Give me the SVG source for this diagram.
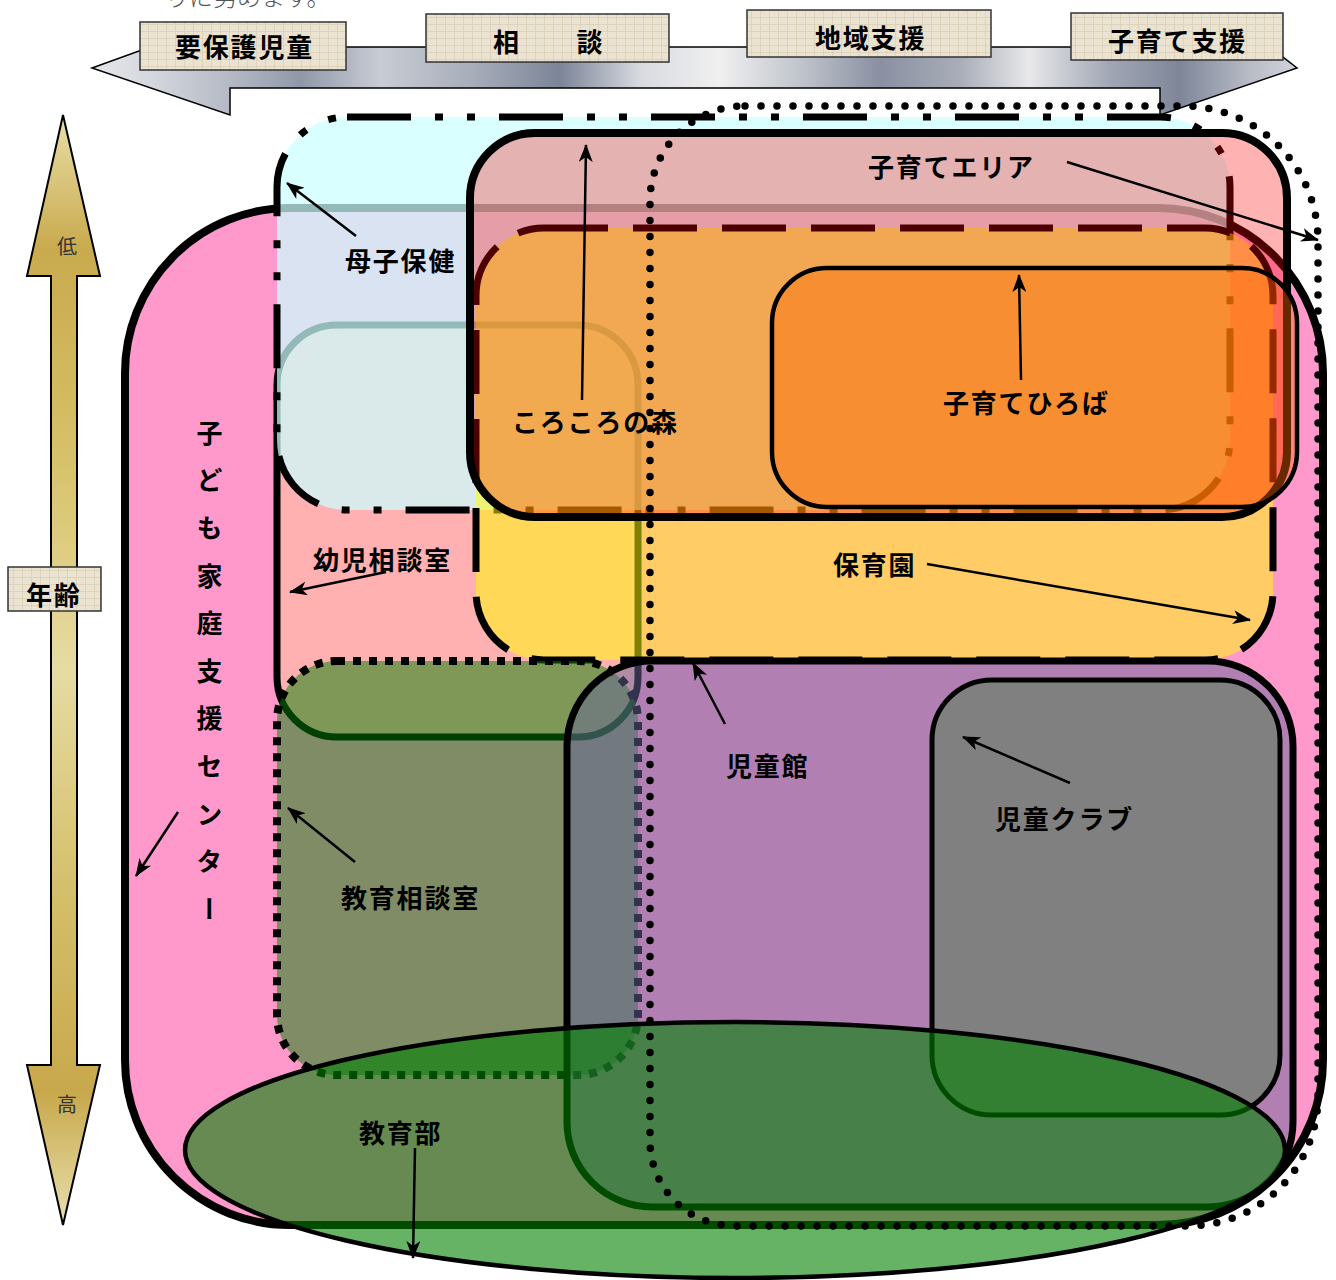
<svg xmlns="http://www.w3.org/2000/svg" width="1336" height="1280" viewBox="0 0 1336 1280">
<defs>
  <linearGradient id="band" gradientUnits="userSpaceOnUse" x1="92" y1="0" x2="1297" y2="0">
    <stop offset="0" stop-color="#e4e6ea"/>
    <stop offset="0.048" stop-color="#d5d8de"/>
    <stop offset="0.115" stop-color="#b4b9c4"/>
    <stop offset="0.173" stop-color="#9098a8"/>
    <stop offset="0.239" stop-color="#c8ccd4"/>
    <stop offset="0.314" stop-color="#a8aeba"/>
    <stop offset="0.388" stop-color="#7c8498"/>
    <stop offset="0.455" stop-color="#d8dadf"/>
    <stop offset="0.521" stop-color="#f0f0f0"/>
    <stop offset="0.588" stop-color="#c0c4cc"/>
    <stop offset="0.654" stop-color="#8a90a2"/>
    <stop offset="0.72" stop-color="#a8adb8"/>
    <stop offset="0.778" stop-color="#e8e8ea"/>
    <stop offset="0.845" stop-color="#a0a6b4"/>
    <stop offset="0.903" stop-color="#7e8698"/>
    <stop offset="0.961" stop-color="#b8bcc6"/>
    <stop offset="1" stop-color="#d0d3da"/>
  </linearGradient>
  <linearGradient id="gold" gradientUnits="userSpaceOnUse" x1="0" y1="115" x2="0" y2="1225">
    <stop offset="0" stop-color="#e8dfa8"/>
    <stop offset="0.12" stop-color="#c9aa4e"/>
    <stop offset="0.3" stop-color="#d6c068"/>
    <stop offset="0.5" stop-color="#e6dba2"/>
    <stop offset="0.7" stop-color="#d4bf6a"/>
    <stop offset="0.88" stop-color="#c8a84c"/>
    <stop offset="1" stop-color="#e8e0ae"/>
  </linearGradient>
  <pattern id="parch" patternUnits="userSpaceOnUse" width="9" height="7">
    <rect width="9" height="7" fill="#ebe3d2"/>
    <path d="M0,3.5 H9 M4.5,0 V7" stroke="#dccfb6" stroke-width="0.8"/>
  </pattern>
  <marker id="ah" markerWidth="18" markerHeight="14" refX="17" refY="7" orient="auto" markerUnits="userSpaceOnUse">
    <path d="M0,0 L18,7 L0,14 L5,7 z" fill="#000"/>
  </marker>
</defs>
<style>
  .lbl{font-family:'Noto Sans CJK JP','Noto Sans CJK SC',sans-serif;font-weight:700;font-size:26px;letter-spacing:1.8px;fill:#000}
  .sm{font-family:'Noto Sans CJK JP','Noto Sans CJK SC',sans-serif;font-weight:400;font-size:20px;fill:#333}
  .con{stroke:#000;stroke-width:2.5;fill:none;marker-end:url(#ah)}
  .box{fill:url(#parch);stroke:#333;stroke-width:1.5}
</style>

<rect width="1336" height="1280" fill="#fff"/>

<text x="165" y="6" style="font-family:'Noto Sans CJK JP',sans-serif;font-size:24px;fill:#555;font-weight:300">りに努めます。</text>

<g id="top-banner">
  <polygon points="92,68 150,47 1270,47 1297,68 1160,115 1160,88 230,88 230,115" fill="url(#band)" stroke="#000" stroke-width="1.5"/>
</g>
<g id="box-yohogo"><rect class="box" x="140" y="22" width="206" height="48"/><text class="lbl" x="175" y="57">要保護児童</text></g>
<g id="box-sodan"><rect class="box" x="426" y="14" width="243" height="48"/><text class="lbl" x="493" y="52">相　　談</text></g>
<g id="box-chiiki"><rect class="box" x="747" y="10" width="244" height="47"/><text class="lbl" x="815" y="48">地域支援</text></g>
<g id="box-kosodate"><rect class="box" x="1071" y="13" width="212" height="47"/><text class="lbl" x="1108" y="51">子育て支援</text></g>

<g id="age-arrow">
  <polygon points="63,115 100,276 77,276 77,1065 100,1065 63,1225 27,1065 51,1065 51,276 27,276" fill="url(#gold)" stroke="#000" stroke-width="2"/>
  <text class="sm" x="67" y="254" text-anchor="middle">低</text>
  <text class="sm" x="67" y="1112" text-anchor="middle">高</text>
</g>
<g id="box-age"><rect class="box" x="8" y="567" width="93" height="44"/><text class="lbl" x="26" y="605">年齢</text></g>

<g id="center">
  <rect x="125" y="208" width="1198" height="1017" rx="165" fill="#ff99cc" stroke="#000" stroke-width="8"/>
</g>
<g id="yoji">
  <rect x="277" y="325" width="361" height="412" rx="60" fill="#ffb0b0" stroke="#000" stroke-width="7"/>
</g>
<g id="boshi">
  <rect x="277" y="117" width="953" height="393" rx="70" fill="#ccffff" fill-opacity="0.725" stroke="#000" stroke-width="7" stroke-dasharray="64 24 8 24 8 24"/>
</g>
<g id="hoikuen">
  <rect x="476" y="228" width="797" height="432" rx="68" fill="#ffff00" fill-opacity="0.5" stroke="#000" stroke-width="7" stroke-dasharray="64 25"/>
</g>
<g id="korokoro">
  <rect x="470" y="133" width="817" height="384" rx="65" fill="#ff0000" fill-opacity="0.3" stroke="#000" stroke-width="8"/>
</g>
<g id="hiroba">
  <rect x="772" y="268" width="525" height="239" rx="55" fill="#ff6600" fill-opacity="0.4" stroke="#000" stroke-width="4.5"/>
</g>
<g id="kyoiku-sodan">
  <rect x="277" y="661" width="361" height="414" rx="60" fill="#008000" fill-opacity="0.5" stroke="#000" stroke-width="8" stroke-dasharray="8 8"/>
</g>
<g id="jidokan">
  <rect x="567" y="661" width="726" height="546" rx="85" fill="#666699" fill-opacity="0.5" stroke="#000" stroke-width="7"/>
</g>
<g id="jido-club">
  <rect x="932" y="680" width="348" height="435" rx="60" fill="#808080" stroke="#000" stroke-width="5"/>
</g>
<g id="kyoikubu">
  <ellipse cx="735" cy="1150" rx="550" ry="128" fill="#008000" fill-opacity="0.6" stroke="#000" stroke-width="4.5"/>
</g>
<g id="kosodate-area">
  <path d="M745,106 H1183 A135,135 0 0 1 1318,241 V1096 A130,130 0 0 1 1188,1226 H735 A85,85 0 0 1 650,1141 V201 A95,95 0 0 1 745,106 Z" fill="none" stroke="#000" stroke-width="7.5" stroke-dasharray="0 16" stroke-linecap="round"/>
</g>

<g id="connectors">
  <line class="con" x1="356" y1="236" x2="287" y2="183"/>
  <line class="con" x1="582" y1="400" x2="586" y2="145"/>
  <line class="con" x1="1067" y1="162" x2="1318" y2="240"/>
  <line class="con" x1="1021" y1="380" x2="1019" y2="275"/>
  <line class="con" x1="386" y1="572" x2="290" y2="592"/>
  <line class="con" x1="927" y1="564" x2="1250" y2="620"/>
  <line class="con" x1="725" y1="724" x2="693" y2="663"/>
  <line class="con" x1="1070" y1="783" x2="963" y2="737"/>
  <line class="con" x1="355" y1="862" x2="288" y2="808"/>
  <line class="con" x1="178" y1="812" x2="136" y2="876"/>
  <line class="con" x1="415" y1="1148" x2="413" y2="1258"/>
</g>

<g id="labels">
  <text class="lbl" x="868" y="177">子育てエリア</text>
  <text class="lbl" x="345" y="271">母子保健</text>
  <text class="lbl" x="512" y="432">ころころの森</text>
  <text class="lbl" x="943" y="413">子育てひろば</text>
  <text class="lbl" x="313" y="570">幼児相談室</text>
  <text class="lbl" x="833" y="575">保育園</text>
  <text class="lbl" x="726" y="776">児童館</text>
  <text class="lbl" x="995" y="829">児童クラブ</text>
  <text class="lbl" x="341" y="908">教育相談室</text>
  <text class="lbl" x="359" y="1143">教育部</text>
  <text class="lbl" x="209.5" y="420" style="writing-mode:vertical-rl;letter-spacing:21.6px">子ども家庭支援センター</text>
</g>
</svg>
